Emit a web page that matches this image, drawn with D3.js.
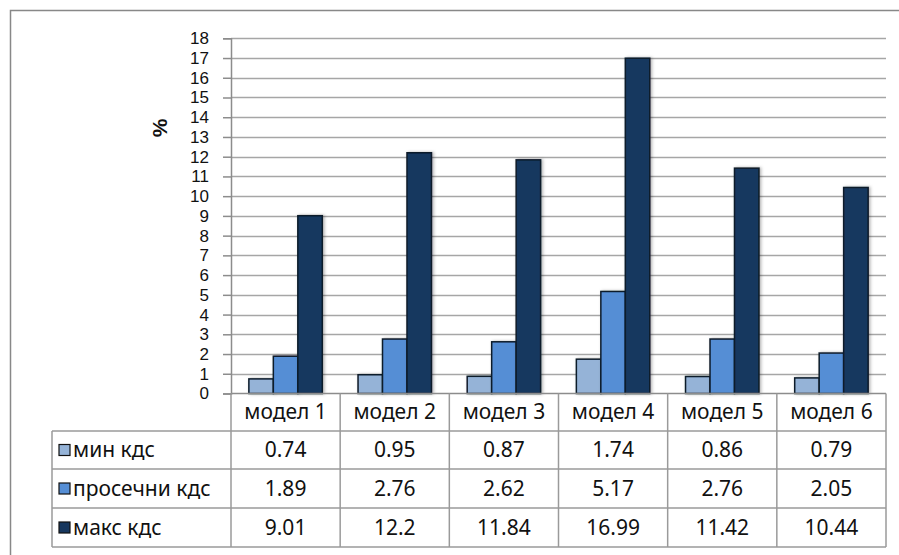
<!DOCTYPE html>
<html><head><meta charset="utf-8">
<script src="https://cdn.jsdelivr.net/npm/d3@7"></script>
<style>body{margin:0;background:#fff}svg{display:block}text{fill:#111}</style>
</head><body><svg id="c" width="899" height="555"></svg>
<script>
const categories = ["модел 1","модел 2","модел 3","модел 4","модел 5","модел 6"];
const seriesNames = ["мин кдс","просечни кдс","макс кдс"];
const minKds = [0.74,0.95,0.87,1.74,0.86,0.79];
const prosecniKds = [1.89,2.76,2.62,5.17,2.76,2.05];
const maksKds = [9.01,12.2,11.84,16.99,11.42,10.44];
const tableLabels = [["0.74","0.95","0.87","1.74","0.86","0.79"],["1.89","2.76","2.62","5.17","2.76","2.05"],["9.01","12.2","11.84","16.99","11.42","10.44"]];
const yTicks = d3.range(0,19,1);
const colors = ["#95b3d7","#558ed5","#17375e"];
const series = [minKds, prosecniKds, maksKds];
const tableFont = "'Noto Sans','Open Sans',sans-serif";
const axisFont = "'Liberation Sans',Arial,sans-serif";

const svg = d3.select("#c");
svg.append("rect").attr("x",10.5).attr("y",10.5).attr("width",900).attr("height",600).attr("fill","#fff").attr("stroke","#888").attr("stroke-width",1.5);

const L=231, R=886, T=38.3, B=393.5;
const x = d3.scaleBand().domain(categories).range([L,R]).paddingInner(0).paddingOuter(0);
const xs = d3.scaleBand().domain(d3.range(3)).range([0,x.bandwidth()]).paddingInner(0).paddingOuter(0.73);
const y = d3.scaleLinear().domain([0,18]).range([B,T]);

// gridlines
svg.append("g").selectAll("line").data(yTicks.filter(d=>d>0)).join("line")
  .attr("x1",L).attr("x2",R).attr("y1",d=>Math.round(y(d))+0.5).attr("y2",d=>Math.round(y(d))+0.5)
  .attr("stroke","#a6a6a6").attr("stroke-width",1.5);

// y axis
const ya = svg.append("g").attr("transform",`translate(${L},0)`).call(d3.axisLeft(y).tickValues(yTicks).tickSize(8).tickPadding(14).tickFormat(d3.format("d")));
ya.select(".domain").attr("stroke","#8c8c8c").attr("stroke-width",1.5);
ya.selectAll(".tick line").attr("stroke","#8c8c8c").attr("stroke-width",1.5);
ya.selectAll(".tick text").style("font-size","17px").style("fill","#111").style("font-family",axisFont);

svg.append("text").attr("transform","translate(167,128) rotate(-90)").attr("text-anchor","middle")
  .style("font-weight","bold").style("font-size","21px").style("font-family",axisFont).text("%");

// bars
const defs = svg.append("defs");
const f = defs.append("filter").attr("id","sh").attr("x","-20%").attr("y","-20%").attr("width","160%").attr("height","160%");
f.append("feDropShadow").attr("dx",1.5).attr("dy",0).attr("stdDeviation",1.5).attr("flood-color","#000").attr("flood-opacity",0.3);

categories.forEach((c,i)=>{
  series.forEach((s,k)=>{
    svg.append("rect").attr("x",x(c)+xs(k)).attr("y",y(s[i])).attr("width",xs.bandwidth()).attr("height",y(0)-y(s[i]))
      .attr("fill",colors[k]).attr("stroke","#0d1b2a").attr("stroke-width",1.5).attr("filter","url(#sh)");
  });
});

// x axis baseline
svg.append("line").attr("x1",L).attr("x2",R).attr("y1",B).attr("y2",B).attr("stroke","#8c8c8c").attr("stroke-width",1.5);

// data table
const rowY = [393.5,431,469,508,547];
const TL = 52;
const g = svg.append("g").attr("stroke","#9a9a9a").attr("stroke-width",1.5);
[1,2,3,4].forEach(r=>g.append("line").attr("x1",TL).attr("x2",R).attr("y1",rowY[r]).attr("y2",rowY[r]));
g.append("line").attr("x1",TL).attr("x2",TL).attr("y1",rowY[1]).attr("y2",rowY[4]);
categories.forEach(c=>{ g.append("line").attr("x1",x(c)).attr("x2",x(c)).attr("y1",B).attr("y2",rowY[4]); });
g.append("line").attr("x1",R).attr("x2",R).attr("y1",B).attr("y2",rowY[4]);

// header labels
svg.append("g").selectAll("text").data(categories).join("text")
  .attr("x",d=>x(d)+x.bandwidth()/2).attr("y",(rowY[0]+rowY[1])/2+7).attr("text-anchor","middle")
  .style("font-size","21px").style("font-family",tableFont).text(d=>d);

seriesNames.forEach((n,k)=>{
  const cy=(rowY[k+1]+rowY[k+2])/2;
  svg.append("rect").attr("x",59).attr("y",cy-5.5).attr("width",11).attr("height",11).attr("fill",colors[k]).attr("stroke","#111").attr("stroke-width",1.2);
  svg.append("text").attr("x",73).attr("y",cy+7).style("font-size","21px").style("font-family",tableFont).text(n);
  categories.forEach((c,i)=>{
    svg.append("text").attr("x",x(c)+x.bandwidth()/2).attr("y",cy+7).attr("text-anchor","middle")
      .style("font-size","21px").style("font-family",tableFont).text(tableLabels[k][i]);
  });
});
</script></body></html>
